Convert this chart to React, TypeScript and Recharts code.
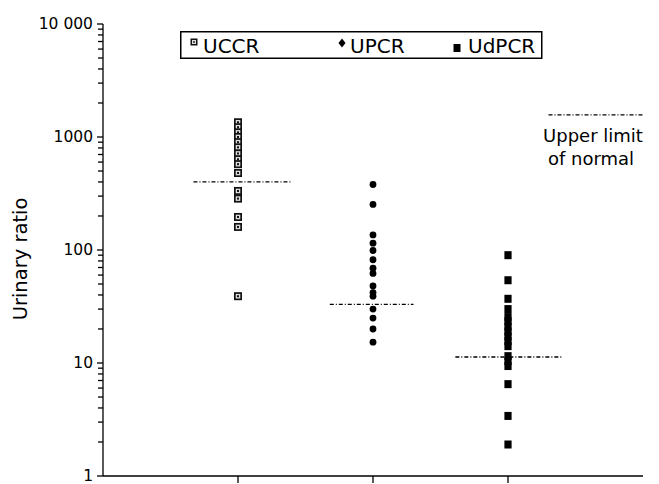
import React from 'react'
import { ScatterChart, Scatter, XAxis, YAxis, ReferenceLine, Legend } from 'recharts'

// urinary ratios (log scale)
const uccrValues = [1350, 1220, 1100, 1000, 900, 810, 715, 635, 575, 480, 333, 285, 196, 160, 39]
const upcrValues = [380, 253, 136, 115, 99, 82, 69, 62, 48, 42, 39, 30, 25, 20, 15.3]
const udpcrValues = [90, 54, 37, 30, 25.5, 23.4, 21, 19, 17.2, 15.6, 14.1, 11.5, 10.4, 9.4, 6.5, 3.4, 1.9]

const seriesNames = ['UCCR', 'UPCR', 'UdPCR']
// upper limit of normal for each ratio, with the span of its dash line
const normalLimits = [400, 33, 11.3]
const limitSpans = [[0.67, 1.4], [1.68, 2.3], [2.61, 3.41]]
const legendLimit = { value: 1570, span: [3.3, 4.0] }

const yTicks = [1, 2, 3, 4, 5, 6, 7, 8, 9, 10, 20, 30, 40, 50, 60, 70, 80, 90, 100, 200, 300, 400, 500, 600, 700, 800, 900, 1000, 2000, 3000, 4000, 5000, 6000, 7000, 8000, 9000, 10000]

const FONT = '"DejaVu Sans", sans-serif'
const DASH = '4 2 1 2'

const toPoints = (values: number[], x: number) => values.map((y) => ({ x, y }))

const HollowSquare = (props: any) => {
  const { cx, cy } = props
  return (
    <g>
      <rect x={cx - 4} y={cy - 4} width={8} height={8} fill="#111" />
      <rect x={cx - 2.3} y={cy - 2.3} width={4.6} height={4.6} fill="#ddd" />
      <rect x={cx - 1} y={cy - 1} width={2} height={2} fill="#111" />
    </g>
  )
}

const Dot = (props: any) => <circle cx={props.cx} cy={props.cy} r={3.4} fill="#000" />

const FilledSquare = (props: any) => (
  <rect x={props.cx - 3.6} y={props.cy - 4} width={7.2} height={8} fill="#000" />
)

// y ticks: tick mark for every minor value, label only on decades
const YTick = (props: any) => {
  const { x, y, payload } = props
  const v = payload.value
  const major = Number.isInteger(Math.log10(v))
  const axisX = x + 9
  return (
    <g>
      <line x1={axisX - (major ? 6 : 5)} x2={axisX} y1={y} y2={y} stroke="#000" strokeWidth={1.3} />
      {major && (
        <text x={x - 1} y={y} textAnchor="end" dominantBaseline="central" fontSize={15.5} fontFamily={FONT} fill="#000">
          {v === 10000 ? '10 000' : String(v)}
        </text>
      )}
    </g>
  )
}

const XTick = (props: any) => {
  const { x, y } = props
  return <line x1={x} x2={x} y1={y - 7} y2={y} stroke="#000" strokeWidth={1.3} />
}

const renderLegend = () => (
  <svg width={363} height={28} style={{ display: 'block' }}>
    <rect x={0.75} y={0.75} width={361} height={26.5} fill="#fff" stroke="#000" strokeWidth={1.5} />
    <g transform="translate(14 11)">
      <rect x={-3.5} y={-3.5} width={7} height={7} fill="#111" />
      <rect x={-2} y={-2} width={4} height={4} fill="#ddd" />
      <rect x={-0.8} y={-0.8} width={1.6} height={1.6} fill="#111" />
    </g>
    <polygon points="162,7.5 165.5,12 162,16.5 158.5,12" fill="#000" />
    <rect x={273.5} y={13} width={7} height={8} fill="#000" />
    <text x={23} y={22} fontSize={20} fontFamily={FONT}>{seriesNames[0]}</text>
    <text x={170} y={22} fontSize={20} fontFamily={FONT}>{seriesNames[1]}</text>
    <text x={288} y={22} fontSize={20} fontFamily={FONT}>{seriesNames[2]}</text>
  </svg>
)

const YLabel = (props: any) => {
  const { viewBox } = props
  const x = viewBox.x + 27
  const y = viewBox.y + viewBox.height / 2 + 9
  return (
    <text x={x} y={y} transform={`rotate(-90 ${x} ${y})`} textAnchor="middle" fontSize={19.5} fontFamily={FONT} fill="#000">
      Urinary ratio
    </text>
  )
}

export default function App() {
  const shapes = [HollowSquare, Dot, FilledSquare]
  const allValues = [uccrValues, upcrValues, udpcrValues]

  return (
    <div style={{ position: 'absolute', left: 0, top: 0, width: 659, height: 484, background: '#fff' }}>
      <ScatterChart width={659} height={484} margin={{ top: 24, right: 16, bottom: 0, left: 0 }}>
        <XAxis
          type="number"
          dataKey="x"
          domain={[0, 4]}
          ticks={[1, 2, 3]}
          tick={XTick}
          tickSize={7}
          tickMargin={0}
          tickLine={false}
          height={8}
          stroke="#000"
          strokeWidth={1.3}
        />
        <YAxis
          type="number"
          dataKey="y"
          scale="log"
          domain={[1, 10000]}
          ticks={yTicks}
          interval={0}
          tick={YTick}
          tickSize={4}
          tickMargin={5}
          tickLine={false}
          width={103}
          stroke="#000"
          strokeWidth={1.3}
          allowDataOverflow
          label={YLabel}
        />
        <Legend
          layout="vertical"
          align="center"
          verticalAlign="middle"
          content={renderLegend}
          wrapperStyle={{ position: 'absolute', left: 180, top: 31, width: 363, height: 28 }}
        />
        {normalLimits.map((v, i) => (
          <ReferenceLine
            key={seriesNames[i]}
            segment={[{ x: limitSpans[i][0], y: v }, { x: limitSpans[i][1], y: v }]}
            stroke="#000"
            strokeWidth={1.3}
            strokeDasharray={DASH}
          />
        ))}
        <ReferenceLine
          segment={[{ x: legendLimit.span[0], y: legendLimit.value }, { x: legendLimit.span[1], y: legendLimit.value }]}
          stroke="#000"
          strokeWidth={1.3}
          strokeDasharray={DASH}
          ifOverflow="visible"
        />
        {allValues.map((vals, i) => (
          <Scatter
            key={seriesNames[i]}
            name={seriesNames[i]}
            data={toPoints(vals, i + 1)}
            shape={shapes[i]}
            isAnimationActive={false}
          />
        ))}
      </ScatterChart>
      <svg width={659} height={484} style={{ position: 'absolute', left: 0, top: 0, pointerEvents: 'none' }}>
        <text x={593} y={142} textAnchor="middle" fontSize={18} fontFamily={FONT}>Upper limit</text>
        <text x={591} y={165} textAnchor="middle" fontSize={18} fontFamily={FONT}>of normal</text>
      </svg>
    </div>
  )
}
